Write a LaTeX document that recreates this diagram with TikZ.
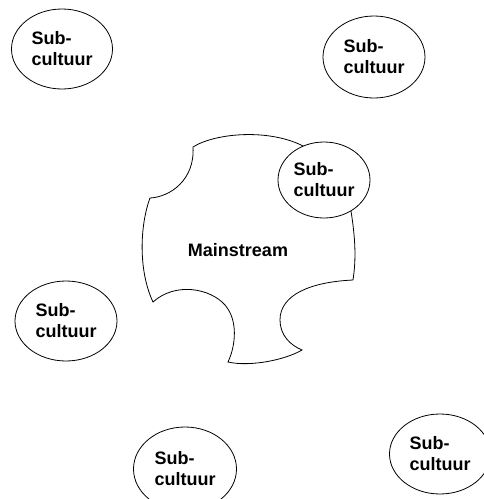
\documentclass[tikz,border=0pt]{standalone}
\usepackage{fontspec}
\setmainfont{Liberation Sans}
\usetikzlibrary{shapes.geometric}

\begin{document}
\begin{tikzpicture}[x=1pt, y=-1pt,
    subc/.style={ellipse, draw, fill=white, line width=0.8pt, inner sep=0pt, align=left,
        font=\bfseries\fontsize{18}{21}\selectfont}]
    \def\w{101pt}
    \def\h{80pt}
    \useasboundingbox (0,0) rectangle (484,499);
    \clip (0,0) rectangle (484,499);

    % mainstream
    \draw[line width=0.8pt] (193,147) .. controls (215,133) and (270,128) .. (305,147)
        -- (350,205) .. controls (356,240) and (356,260) .. (353,280)
        .. controls (310,282) and (280,295) .. (280,320)
        .. controls (280,335) and (290,345) .. (302,350)
        .. controls (285,360) and (250,367) .. (228,362)
        .. controls (236,345) and (238,320) .. (225,305)
        .. controls (210,288) and (175,282) .. (153,302)
        .. controls (138,270) and (140,225) .. (150,198)
        .. controls (170,197) and (195,180) .. (193,147) -- cycle;
    \node(main) [font=\bfseries\fontsize{18}{21}\selectfont] at (238,250) {Mainstream};

    \node(s1) [subc, minimum width=\w, minimum height=\h] at (62,49) {Sub-\\cultuur};
    \node(s2) [subc, minimum width=102pt, minimum height=82pt] at (374,57) {Sub-\\cultuur};
    \node(s3) [subc, minimum width=92pt, minimum height=76pt] at (324,180) {Sub-\\cultuur};
    \node(s4) [subc, minimum width=102pt, minimum height=\h] at (66,321) {Sub-\\cultuur};
    \node(s5) [subc, minimum width=103pt, minimum height=84pt] at (185,469) {Sub-\\cultuur};
    \node(s6) [subc, minimum width=\w, minimum height=\h] at (440,454) {Sub-\\cultuur};

\end{tikzpicture}
\end{document}
